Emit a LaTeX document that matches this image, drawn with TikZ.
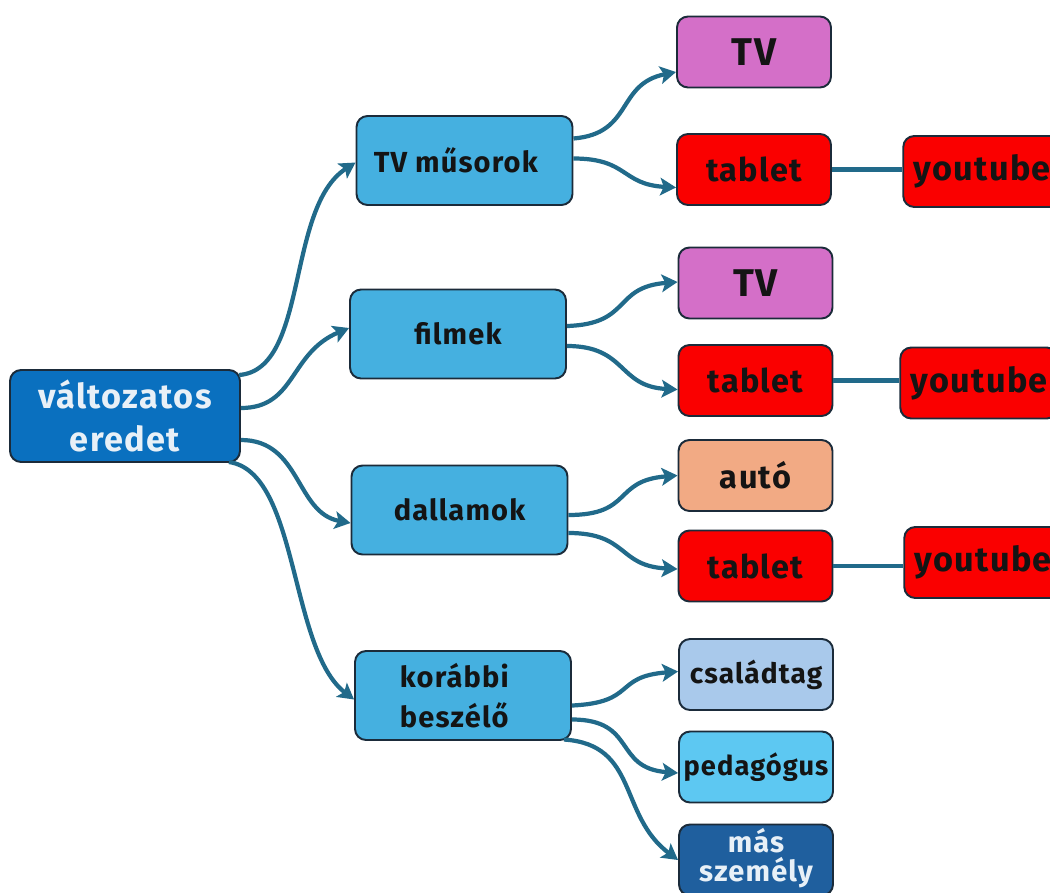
\documentclass[tikz,border=0pt]{standalone}
\usepackage{fontspec}
\setmainfont{Fira Sans}[LetterSpace=4]
\usetikzlibrary{arrows.meta,calc}
\definecolor{rootblue}{HTML}{0A70BF}
\definecolor{midblue}{HTML}{45B0E0}
\definecolor{tvpink}{HTML}{D46FC8}
\definecolor{redbox}{HTML}{FA0000}
\definecolor{autobox}{HTML}{F2AA84}
\definecolor{famblue}{HTML}{A9C9EB}
\definecolor{pedblue}{HTML}{5DC8F2}
\definecolor{otherblue}{HTML}{1F5F9E}
\definecolor{edgeblue}{HTML}{216A8A}
\definecolor{borderc}{HTML}{1B2B3A}
\definecolor{lighttext}{HTML}{E8F0F7}
\begin{document}
\begin{tikzpicture}[x=0.02cm,y=-0.02cm,
  box/.style={draw=borderc,line width=1.1pt,rounded corners=0.22cm,inner sep=0pt,align=center,font=\bfseries,text=black!92},
  rootbox/.style={box,fill=rootblue,minimum width=4.6cm,minimum height=1.84cm,text=lighttext,font=\fontsize{19.5}{25}\selectfont\bfseries},
  midbox/.style={box,fill=midblue,minimum width=4.32cm,minimum height=1.78cm,font=\fontsize{16.5}{23}\selectfont\bfseries},
  leafbox/.style={box,minimum width=3.08cm,minimum height=1.42cm,font=\fontsize{18.5}{22}\selectfont\bfseries},
  ytbox/.style={box,fill=redbox,minimum width=3.15cm,minimum height=1.42cm,font=\fontsize{19.5}{22}\selectfont\bfseries},
  conn/.style={draw=edgeblue,line width=2.4pt,-{Stealth[length=9pt,width=10pt,inset=2pt]}},
  plain/.style={draw=edgeblue,line width=2.4pt}
]
\useasboundingbox (0,0) rectangle (1050,892);
\clip (0,0) rectangle (1050,892);

% root
\node[rootbox] (root) at (125,416) {változatos\\eredet};

% second level
\node[midbox] (tvm) at (464.5,160.5) {\hspace*{-0.6em}TV műsorok};
\node[midbox] (film) at (458,334) {filmek};
\node[midbox] (dall) at (459.5,510) {dallamok};
\node[midbox,align=left] (kor) at (463,695.5) {\hspace*{-0.6em}korábbi\\\hspace*{-0.6em}beszélő};

% third level
\node[leafbox,fill=tvpink,font=\fontsize{22}{26}\selectfont\bfseries] (tv1) at (754,52) {TV};
\node[leafbox,fill=redbox] (tab1) at (754,169.5) {tablet};
\node[ytbox] (yt1) at (982,171.5) {youtube};

\node[leafbox,fill=tvpink,font=\fontsize{22}{26}\selectfont\bfseries] (tv2) at (755.5,283) {TV};
\node[leafbox,fill=redbox] (tab2) at (755.5,380.5) {tablet};
\node[ytbox] (yt2) at (979,383) {youtube};

\node[leafbox,fill=autobox] (auto) at (755.5,475.5) {autó};
\node[leafbox,fill=redbox] (tab3) at (755.5,566) {tablet};
\node[ytbox] (yt3) at (983,562.5) {youtube};

\node[leafbox,fill=famblue,font=\fontsize{16}{20}\selectfont\bfseries] (fam) at (756,674.5) {családtag};
\node[leafbox,fill=pedblue,font=\fontsize{15.5}{20}\selectfont\bfseries] (ped) at (756,767) {pedagógus};
\node[leafbox,fill=otherblue,text=lighttext,font=\fontsize{16.5}{20}\selectfont\bfseries] (mas) at (756,860) {\raisebox{3pt}{\begin{tabular}{@{}c@{}}más\\[-3pt]személy\end{tabular}}};

% root connectors
\draw[conn] ($(root.east)+(-2,-41)$) .. controls +(70,-5) and +(-70,45) .. ($(tvm.west)+(0,2)$);
\draw[conn] ($(root.east)+(0,-8)$) .. controls +(55,0) and +(-60,25) .. ($(film.west)+(0,-6)$);
\draw[conn] ($(root.east)+(0,24)$) .. controls +(60,0) and +(-55,-10) .. ($(dall.west)+(0,13)$);
\draw[conn] ($(root.east)+(-12,46)$) .. controls +(70,10) and +(-65,-50) .. ($(kor.west)+(0,4)$);

% TV műsorok
\draw[conn] ($(tvm.east)+(0,-22)$) .. controls +(60,-5) and +(-60,12) .. ($(tv1.west)+(0,20)$);
\draw[conn] ($(tvm.east)+(0,-2)$) .. controls +(55,0) and +(-55,-3) .. ($(tab1.west)+(0,18)$);
% filmek
\draw[conn] ($(film.east)+(0,-8)$) .. controls +(65,-2) and +(-65,5) .. ($(tv2.west)+(0,-1)$);
\draw[conn] ($(film.east)+(0,12)$) .. controls +(60,0) and +(-60,-3) .. ($(tab2.west)+(0,9)$);
% dallamok
\draw[conn] ($(dall.east)+(0,5)$) .. controls +(65,0) and +(-65,5) .. ($(auto.west)+(0,0)$);
\draw[conn] ($(dall.east)+(0,23)$) .. controls +(60,0) and +(-60,-3) .. ($(tab3.west)+(0,3)$);
% korábbi beszélő
\draw[conn] ($(kor.east)+(0,10)$) .. controls +(65,-3) and +(-65,5) .. ($(fam.west)+(0,-3)$);
\draw[conn] ($(kor.east)+(0,24)$) .. controls +(65,0) and +(-65,-5) .. ($(ped.west)+(0,6)$);
\draw[conn] ($(kor.east)+(-8,44)$) .. controls +(75,5) and +(-60,-45) .. ($(mas.west)+(0,0)$);

% tablet - youtube
\draw[plain] (tab1.east) -- (yt1.west |- tab1.east);
\draw[plain] (tab2.east) -- (yt2.west |- tab2.east);
\draw[plain] (tab3.east) -- (yt3.west |- tab3.east);
\end{tikzpicture}
\end{document}
